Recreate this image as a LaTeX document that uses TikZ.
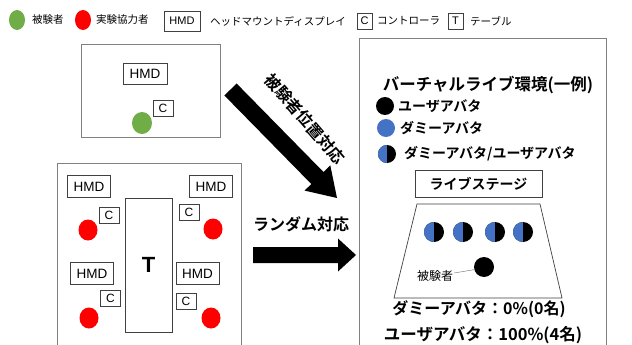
\documentclass[tikz,border=0pt]{standalone}
\usepackage{fontspec}
\setmainfont{Noto Sans CJK JP}[BoldFont={Noto Sans CJK JP Bold}]
\newfontfamily\lat{Liberation Sans}
\usetikzlibrary{shapes.geometric}
\definecolor{grn}{HTML}{70AD47}
\definecolor{rd}{HTML}{FF0000}
\definecolor{blu}{HTML}{4472C4}
\definecolor{frame}{HTML}{808080}
\definecolor{boxln}{HTML}{404040}
\begin{document}
\begin{tikzpicture}[x=1pt,y=-1pt,
  outer/.style={draw=frame, line width=0.9pt, inner sep=0pt},
  lbox/.style={draw=boxln, line width=0.7pt, inner sep=0pt, fill=white},
  hmdbox/.style={lbox, minimum width=43pt, minimum height=22pt, font=\lat\fontsize{13.5}{14}\selectfont},
  cbox/.style={lbox, minimum width=20pt, minimum height=16pt, font=\lat\fontsize{12}{13}\selectfont},
  person/.style={ellipse, inner sep=0pt, minimum width=19pt, minimum height=21pt},
  txtl/.style={anchor=west, inner sep=0pt, font=\fontsize{10.5}{12}\selectfont},
  txtb/.style={inner sep=0pt, font=\bfseries\fontsize{#1}{#1}\selectfont},
  avatar/.style={circle, inner sep=0pt, minimum size=#1, fill=black},
  halfav/.style={avatar=#1, path picture={\fill[blu] (path picture bounding box.south west) rectangle (path picture bounding box.north);}},
  bigarrow/.style={fill=black}
]
\useasboundingbox (0,0) rectangle (632,345);
\clip (0,0) rectangle (632,345);
\fill[white] (0,0) rectangle (632,345);

% ---------- legend ----------
\node[ellipse, inner sep=0pt, minimum width=16pt, minimum height=20pt, fill=grn] (lg) at (17,20) {};
\node[txtl] (lgt) at (32,20) {被験者};
\node[ellipse, inner sep=0pt, minimum width=16pt, minimum height=20pt, fill=rd] (lr) at (83,20) {};
\node[txtl] (lrt) at (96,20) {実験協力者};
\node[lbox, minimum width=36pt, minimum height=20pt, font=\lat\fontsize{11}{12}\selectfont] (lh) at (182,21) {HMD};
\node[txtl] (lht) at (210,21) {ヘッドマウントディスプレイ};
\node[lbox, minimum width=15pt, minimum height=16pt, font=\lat\fontsize{11}{12}\selectfont] (lc) at (364.5,21) {C};
\node[txtl] (lct) at (377,21) {コントローラ};
\node[lbox, minimum width=15pt, minimum height=16pt, font=\lat\fontsize{11}{12}\selectfont] (lt) at (455.5,21) {T};
\node[txtl] (ltt) at (470,21) {テーブル};

% ---------- real room: subject ----------
\node[outer, minimum width=139pt, minimum height=93pt] (room1) at (150.5,90.5) {};
\node[hmdbox, minimum width=44pt, minimum height=21pt] (h0) at (145,73.5) {HMD};
\node[cbox] (c0) at (163,108) {C};
\node[person, fill=grn, minimum width=20pt, minimum height=22pt] (p0) at (142,123) {};

% ---------- real room: collaborators ----------
\node[outer, minimum width=184pt, minimum height=197pt] (room2) at (149,261.5) {};
\node[lbox, minimum width=47pt, minimum height=134pt, font=\lat\bfseries\fontsize{22}{24}\selectfont] (tab) at (148.5,265) {T};
\node[hmdbox] (h1) at (89,186.5) {HMD};
\node[hmdbox] (h2) at (211,186.5) {HMD};
\node[hmdbox] (h3) at (92,273.5) {HMD};
\node[hmdbox] (h4) at (197.5,273.5) {HMD};
\node[cbox] (c1) at (109,215) {C};
\node[cbox] (c2) at (189,212) {C};
\node[cbox] (c3) at (110.5,298.5) {C};
\node[cbox] (c4) at (186,301) {C};
\node[person, fill=rd] (p1) at (88,230) {};
\node[person, fill=rd] (p2) at (213,229) {};
\node[person, fill=rd] (p3) at (89,318) {};
\node[person, fill=rd] (p4) at (211,318) {};

% ---------- arrows ----------
\fill[bigarrow] (224.4,95.5) -- (311.3,184.0) -- (304.6,190.6) -- (337,198) -- (330.3,165.4) -- (323.5,172.0) -- (236.6,83.5) -- cycle;
\node[txtb=16, rotate=-49] (lab1) at (305,119) {被験者位置対応};
\fill[bigarrow] (253,247) -- (338,247) -- (338,238.5) -- (356,255) -- (338,271.5) -- (338,263) -- (253,263) -- cycle;
\node[txtb=16] (lab2) at (301,224) {ランダム対応};

% ---------- virtual live ----------
\node[outer, minimum width=247pt, minimum height=322pt] (room3) at (482.5,199) {};
\node[txtb=16.5] (title) at (488,85) {バーチャルライブ環境(一例)};
\node[avatar=18pt] (k1) at (385,106) {};
\node[txtb=14, anchor=west] (k1t) at (398,106) {ユーザアバタ};
\node[avatar=18pt, fill=blu] (k2) at (386,128) {};
\node[txtb=14, anchor=west] (k2t) at (400,128) {ダミーアバタ};
\node[halfav=18pt] (k3) at (387,154) {};
\node[txtb=14, anchor=west] (k3t) at (404,154) {ダミーアバタ/ユーザアバタ};
\node[lbox, txtb=14, minimum width=127pt, minimum height=27pt] (stage) at (478.5,183.5) {ライブステージ};
\draw[boxln, line width=0.7pt] (417,204) -- (540,204) -- (562,298) -- (394,298) -- cycle;
\node[halfav=20pt] (a1) at (434,232) {};
\node[halfav=20pt] (a2) at (463,232) {};
\node[halfav=20pt] (a3) at (495,232) {};
\node[halfav=20pt] (a4) at (523,232) {};
\node[avatar=20pt] (subj) at (484,267) {};
\node[inner sep=0pt, font=\fontsize{12}{13}\selectfont] (subjt) at (435,276) {被験者};
\draw[gray, line width=0.5pt] (subjt.east) ++(1,-3) -- (subj.195);
\node[txtb=16] (r1) at (479,309) {ダミーアバタ：0\%(0名)};
\node[txtb=16.5] (r2) at (483,335.5) {ユーザアバタ：100\%(4名)};
\end{tikzpicture}
\end{document}
